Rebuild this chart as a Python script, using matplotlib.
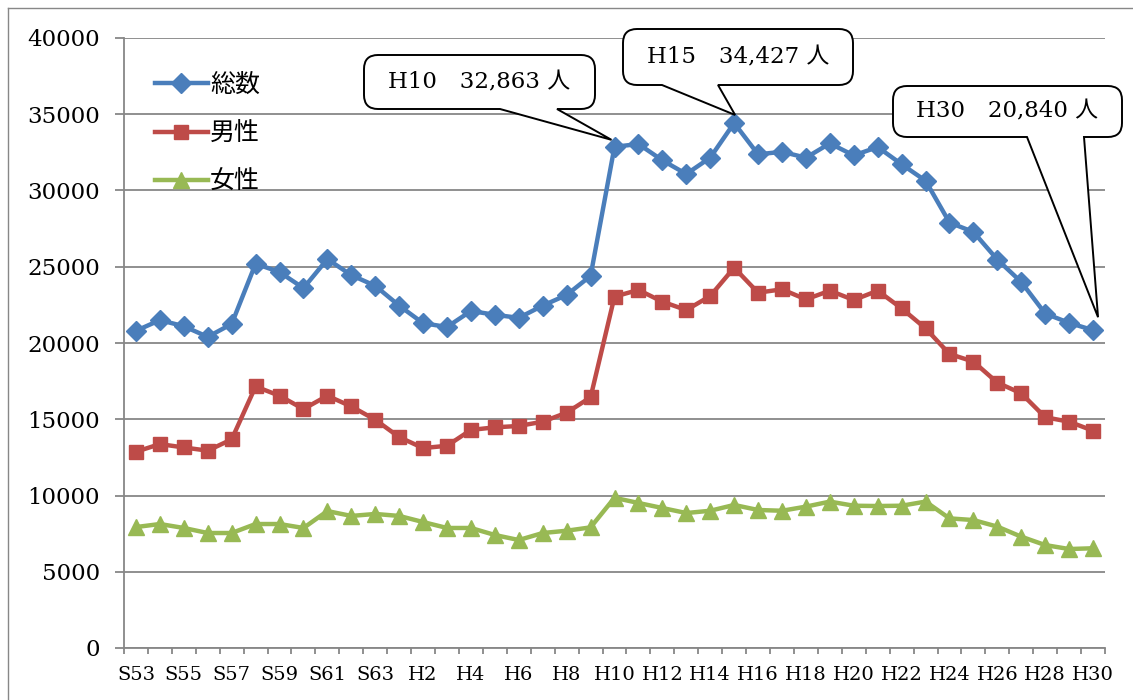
import numpy as np
import matplotlib
matplotlib.use("Agg")
import matplotlib.pyplot as plt
from matplotlib.path import Path
from matplotlib.patches import PathPatch
from matplotlib.lines import Line2D
from matplotlib.transforms import Affine2D

W, H = 1133, 700

years = (["S%d" % y for y in range(53, 64)] +
         ["H%d" % y for y in range(1, 31)])
tick_labels = years[::2]

total = [20800, 21500, 21100, 20400, 21250, 25200, 24650, 23600, 25500, 24450, 23750,
         22450, 21300, 21050, 22100, 21850, 21650, 22450, 23150, 24400, 32863,
         33050, 31980, 31080, 32150, 34427, 32370, 32540, 32150, 33090, 32300,
         32850, 31720, 30640, 27900, 27280, 25470, 24000, 21930, 21320, 20840]
male = [12870, 13370, 13150, 12940, 13680, 17150, 16540, 15670, 16540, 15840, 14970,
        13830, 13110, 13260, 14300, 14470, 14560, 14840, 15430, 16440, 23040,
        23480, 22710, 22160, 23080, 24940, 23300, 23520, 22860, 23430, 22820,
        23430, 22270, 20960, 19280, 18780, 17400, 16700, 15130, 14840, 14250]
female = [7930, 8130, 7870, 7540, 7540, 8130, 8130, 7870, 8980, 8660, 8790,
          8660, 8260, 7870, 7870, 7410, 7080, 7540, 7690, 7910, 9850,
          9510, 9180, 8850, 9000, 9380, 9050, 9000, 9270, 9600, 9330,
          9310, 9330, 9600, 8500, 8390, 7960, 7300, 6750, 6490, 6540]

# callouts: index of the year, box (x0, y0, x1, y1) px, tail base x, tip offset px
callouts = [
    (20, (364, 55, 595, 109), (500, 557), (-3, -7)),
    (25, (623, 29, 853, 85), (662, 718), (1, -8)),
    (40, (893, 86, 1122, 137), (1027, 1084), (5, -13)),
]

GRID = "#878787"
SERIF = ["DejaVu Serif", "Noto Sans CJK JP"]

fig = plt.figure(figsize=(W / 100, H / 100), dpi=100)
ax = fig.add_axes([124 / W, 1 - 648 / H, (1105 - 124) / W, (648 - 38) / H])

x = np.arange(len(years))
ax.plot(x, total, color="#4A7EBB", lw=3.2, marker="D", ms=10.5, label="総数", zorder=4)
ax.plot(x, male, color="#BE4B48", lw=3.2, marker="s", ms=10, label="男性", zorder=4)
ax.plot(x, female, color="#98B954", lw=3.2, marker="^", ms=11.5, label="女性", zorder=4)

ax.set_xlim(-0.5, len(years) - 0.5)
ax.set_ylim(0, 40000)
ax.set_yticks(range(0, 40001, 5000))
ax.set_yticklabels([str(v) for v in range(0, 40001, 5000)], family=SERIF, fontsize=16.5)
ax.set_xticks(x[::2])
ax.set_xticklabels(tick_labels, family=SERIF, fontsize=14)
ax.set_xticks(np.arange(-0.5, len(years), 1), minor=True)
ax.tick_params(axis="x", which="major", length=0, pad=13)
ax.tick_params(axis="x", which="minor", length=4, width=1.3, color=GRID)
ax.tick_params(axis="y", length=6.5, width=1.3, color=GRID, pad=11)

ax.grid(axis="y", color=GRID, lw=1.3)
ax.set_axisbelow(True)
for s in ["top", "right"]:
    ax.spines[s].set_visible(False)
for s in ["left", "bottom"]:
    ax.spines[s].set_color(GRID)
    ax.spines[s].set_linewidth(1.3)

leg = ax.legend(loc="upper left", bbox_to_anchor=(155 / W, 1 - 72 / H),
                bbox_transform=fig.transFigure, frameon=False,
                prop={"family": "Noto Sans CJK JP", "size": 18},
                handlelength=2.1, handletextpad=0.1, labelspacing=0.9,
                borderpad=0, borderaxespad=0, numpoints=1)

# pixel coords with y going down -> figure
px = Affine2D().scale(1 / W, -1 / H).translate(0, 1) + fig.transFigure


def callout_path(box, base, tip, r=14):
    x0, y0, x1, y1 = box
    verts = [(x0 + r, y0), (x1 - r, y0), (x1, y0), (x1, y0 + r),
             (x1, y1 - r), (x1, y1), (x1 - r, y1),
             (base[1], y1), tip, (base[0], y1),
             (x0 + r, y1), (x0, y1), (x0, y1 - r),
             (x0, y0 + r), (x0, y0), (x0 + r, y0), (x0 + r, y0)]
    codes = [Path.MOVETO, Path.LINETO, Path.CURVE3, Path.CURVE3,
             Path.LINETO, Path.CURVE3, Path.CURVE3,
             Path.LINETO, Path.LINETO, Path.LINETO,
             Path.LINETO, Path.CURVE3, Path.CURVE3,
             Path.LINETO, Path.CURVE3, Path.CURVE3, Path.CLOSEPOLY]
    return Path(verts, codes)


fig.canvas.draw()
for i, box, base, off in callouts:
    pt = ax.transData.transform((x[i], total[i]))
    pt = px.inverted().transform(pt)
    tip = (pt[0] + off[0], pt[1] + off[1])
    patch = PathPatch(callout_path(box, base, tip), facecolor="white",
                      edgecolor="black", lw=1.4, transform=px, zorder=6)
    fig.add_artist(patch)
    cx = (box[0] + box[2]) / 2
    cy = (box[1] + box[3]) / 2
    fig.text(cx / W, 1 - cy / H, "%s\u3000%s 人" % (years[i], format(total[i], ",")),
             ha="center", va="center", fontsize=16.5, family=SERIF, zorder=7)

# outer chart frame
fig.add_artist(Line2D([8, 8], [8, 700], color=GRID, lw=1, transform=px))
fig.add_artist(Line2D([8, 1133], [8, 8], color=GRID, lw=1, transform=px))

fig.savefig("out.png", dpi=100)
